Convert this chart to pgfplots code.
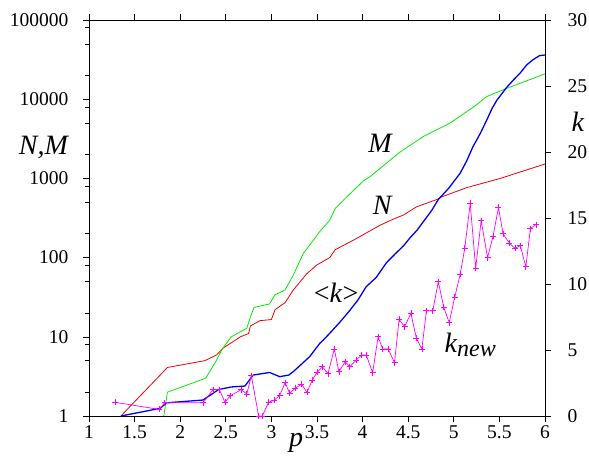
\documentclass[border=0pt]{standalone}
\usepackage{fontspec}
\setmainfont{Liberation Serif}
\usepackage{pgfplots}
\pgfplotsset{compat=1.18}
\definecolor{cN}{RGB}{240,0,0}
\definecolor{cM}{RGB}{0,235,0}
\definecolor{cK}{RGB}{0,0,240}
\definecolor{cNew}{RGB}{255,0,255}

\begin{document}
\begin{tikzpicture}
\pgfplotsset{
  every axis/.append style={
    width=456pt, height=396pt, scale only axis,
    xmin=1, xmax=6, at={(0,0)}, anchor=south west,
    tick label style={font=\fontsize{19.5}{19.5}\selectfont},
    major tick length=6pt, minor tick length=4pt,
    tick align=outside,
    axis line style={line width=0.8pt},
    tick style={black, line width=0.6pt},
  }
}
% left axis: N and M
\begin{axis}[
  ymode=log, ymin=1, ymax=100000,
  xtick={1,1.5,2,2.5,3,3.5,4,4.5,5,5.5,6},
  xticklabels={1,1.5,2,2.5,3,3.5,4,4.5,5,5.5,6},
  xtick pos=both, xticklabel pos=lower,
  ytick={1,10,100,1000,10000,100000},
  yticklabels={1,10,100,1000,10000,100000},
  minor ytick={2,5,8,20,50,80,200,500,800,2000,5000,8000,20000,50000,80000},
  ytick pos=left,
  yticklabel style={xshift=-11pt},
]
\addplot[cN, line width=0.8pt] coordinates {
(1.35,1) (1.86,4.1) (2.27,5) (2.40,5.9) (2.47,7.2) (2.58,8.7) (2.66,10)
(2.75,11) (2.77,13.7) (2.875,16) (3.00,16.5) (3.04,22) (3.15,27) (3.24,39)
(3.39,63) (3.50,81) (3.64,100) (3.70,126) (3.90,166) (4.19,256) (4.32,300)
(4.45,346) (4.59,437) (4.83,550) (4.85,575) (5.14,764) (5.51,1000) (6.0,1520)
};
\addplot[cM, line width=0.8pt] coordinates {
(1.82,1) (1.86,2.0) (2.28,3.0) (2.40,5.1) (2.46,7) (2.56,10) (2.73,12.8)
(2.77,17.8) (2.81,23.5) (2.98,26) (3.04,34) (3.15,39) (3.24,60) (3.35,113)
(3.46,166) (3.53,213) (3.64,297) (3.70,418) (3.83,590) (4.01,930) (4.08,1050)
(4.41,2150) (4.67,3400) (4.96,5000) (5.25,8500) (5.36,10800) (5.58,13700) (6.0,20900)
};
\end{axis}
% right axis: <k> and k_new
\begin{axis}[
  ymin=0, ymax=30,
  axis y line*=right, axis x line=none,
  ytick={0,5,10,15,20,25,30},
  yticklabels={0,5,10,15,20,25,30},
  yticklabel style={xshift=13pt},
  clip=false,
]
\addplot[cK, line width=1.3pt] coordinates {
(1.35,0) (1.78,0.58) (1.85,1.0) (2.25,1.21) (2.42,2.0) (2.56,2.2) (2.71,2.27)
(2.80,3.1) (2.98,3.3) (3.09,2.98) (3.19,3.1) (3.24,3.36) (3.31,3.8) (3.42,4.5)
(3.53,5.5) (3.57,5.76) (3.64,6.27) (3.75,7.1) (3.86,8.0) (3.95,8.8) (4.04,9.8)
(4.15,10.5) (4.26,11.6) (4.36,12.3) (4.45,12.9) (4.52,13.5) (4.60,14.1) (4.68,14.85)
(4.76,15.6) (4.83,16.4) (4.95,17.3) (5.07,18.4) (5.14,19.3) (5.21,20.4) (5.29,21.4)
(5.36,22.4) (5.42,23.3) (5.47,23.9) (5.58,24.9) (5.66,25.5) (5.73,26.0) (5.80,26.6)
(5.87,27.0) (5.94,27.3) (6.0,27.35)
};
\addplot[cNew, line width=0.7pt, mark=+, mark size=3pt] coordinates {
(1.285,1.04) (1.77,0.5) (1.83,1.0) (2.25,1.0) (2.36,2.0) (2.43,2.0) (2.49,1.04)
(2.55,1.54) (2.67,2.0) (2.73,1.67) (2.78,3.05) (2.86,0) (2.90,0) (2.97,1.04)
(3.03,1.2) (3.09,1.54) (3.15,2.52) (3.20,1.72) (3.26,2.1) (3.33,2.4) (3.39,1.8)
(3.45,2.73) (3.50,3.3) (3.56,3.73) (3.62,3.2) (3.69,5.08) (3.74,3.36) (3.81,4.11)
(3.86,3.73) (3.93,4.24) (3.99,4.62) (4.04,4.62) (4.11,3.28) (4.17,6.0) (4.22,5.08)
(4.28,5.08) (4.35,4.04) (4.40,7.32) (4.46,6.77) (4.53,7.78) (4.59,5.88) (4.65,5.08)
(4.70,7.98) (4.77,7.98) (4.83,10.17) (4.89,8.23) (4.95,7.07) (5.01,8.99) (5.07,10.73)
(5.12,12.7) (5.18,16.1) (5.24,11.2) (5.30,14.8) (5.37,12.0) (5.43,13.6) (5.49,15.8)
(5.54,13.8) (5.61,13.1) (5.67,12.7) (5.73,12.9) (5.79,11.3) (5.84,14.2) (5.90,14.5)
};
\begin{scope}[every node/.style={font=\fontsize{28}{28}\selectfont\itshape}]
\node at (axis description cs:0.638,0.689) {M};
\node at (axis description cs:0.643,0.533) {N};
\node[font=\fontsize{28}{28}\selectfont] at (axis description cs:0.542,0.311) {<\textit{k}>};
\node at (axis description cs:0.836,0.179) {k\raisebox{-4pt}{\fontsize{24}{24}\selectfont new}};
\node at (axis description cs:-0.1,0.677) {N,M};
\node at (axis description cs:1.072,0.742) {k};
\node at (axis description cs:0.454,-0.068) {p};
\end{scope}
\end{axis}
\pgfresetboundingbox
\path (-89pt,-48pt) rectangle (500pt,416pt);
\end{tikzpicture}
\end{document}
